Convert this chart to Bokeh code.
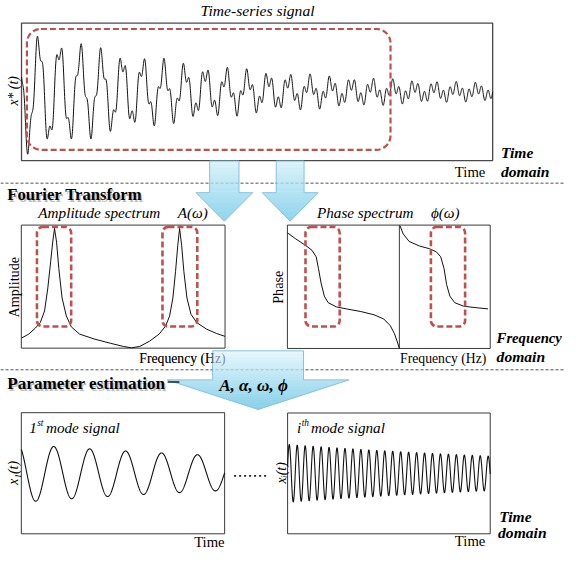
import numpy as np
from bokeh.plotting import figure
from bokeh.models import Range1d, BoxAnnotation
from bokeh.core.properties import value
from bokeh.embed import file_html
from bokeh.resources import INLINE

# ---------------- data ----------------
# Measured time-series x*(t): two damped modes, t = 0..10 s
top_A = [55.0, 12.0]
top_alpha = [0.265, 0.077]      # 1/s
top_omega = [14.2, 46.6]        # rad/s
top_phi = [1.08, -2.70]         # rad

# Identified single-mode signals (1st and i-th), t = 0..10 s
mode_A = [29.5, 29.5]
mode_alpha = [0.052, 0.052]
mode_omega = [3.555, 16.0]
mode_phi = [0.604, -1.32]

# Amplitude spectrum A(w): frequency (Hz) and normalised amplitude
amp_freq = [0.02, 0.37, 0.69, 0.93, 1.14, 1.30, 1.44, 1.54, 1.63, 1.73, 1.84, 2.00,
            2.21, 2.45, 2.85, 3.57, 4.37, 5.01, 5.41, 5.81, 6.29, 6.77, 7.09, 7.28,
            7.44, 7.57, 7.68, 7.77, 7.87, 7.98, 8.13, 8.33, 8.61, 9.09, 9.57, 10.0]
amp_val = [0.083, 0.115, 0.163, 0.208, 0.302, 0.488, 0.702, 0.862, 0.974, 0.862, 0.648, 0.408,
           0.262, 0.174, 0.115, 0.075, 0.040, 0.014, 0.003, 0.014, 0.056, 0.115, 0.182, 0.262,
           0.408, 0.622, 0.835, 0.974, 0.835, 0.622, 0.408, 0.275, 0.208, 0.155, 0.120, 0.096]

# Phase spectrum phi(w): two wrapped branches, degrees
ph1_freq = [0.01, 0.41, 0.89, 1.21, 1.42, 1.53, 1.66, 1.82, 2.01, 2.42, 2.98, 3.62,
            4.27, 4.75, 5.07, 5.28, 5.42, 5.52]
ph1_deg = [157.1, 139.9, 121.0, 106.6, 87.4, 53.9, 10.9, -27.2, -46.4, -58.7, -65.3, -72.2,
           -81.7, -94.0, -113.2, -137.0, -161.0, -180.0]
ph2_freq = [5.55, 5.71, 6.00, 6.51, 7.00, 7.35, 7.56, 7.72, 7.85, 8.01, 8.25, 8.69, 9.25, 9.89]
ph2_deg = [178.3, 154.2, 132.4, 119.0, 111.2, 101.8, 87.4, 53.9, 6.3, -27.2, -46.4, -56.7,
           -60.7, -64.5]
phase_wrap_freq = 5.52

# ---------------- layout ----------------
W, H = 565, 549
X0, X1 = 3.0, 581.0          # diagram units shown across the canvas
Y_BOT, Y_TOP = 565.0, 6.0
FS = W / (X1 - X0)           # font scale

SERIF = "Liberation Serif"
RED = "#c0504d"
INK = "#111111"

BOX_TOP = (24.5, 506.5, 29.0, 169.0)
BOX_AMP = (24.3, 232.7, 234.7, 360.0)
BOX_PH = (296.5, 504.0, 234.7, 360.3)
BOX_M1 = (24.3, 232.3, 425.7, 549.0)
BOX_MI = (296.7, 504.0, 426.0, 549.0)

p = figure(width=W, height=H, x_range=Range1d(X0, X1), y_range=Range1d(Y_BOT, Y_TOP),
           output_backend="svg", toolbar_location=None, min_border=0,
           x_axis_location=None, y_axis_location=None)
p.grid.visible = False
p.outline_line_color = None
p.background_fill_color = "white"
p.border_fill_color = "white"

panel_defs = {
    "top": (BOX_TOP, (0, 10), (-70, 70)),
    "amp": (BOX_AMP, (0, 10), (0, 1)),
    "ph": (BOX_PH, (0, 10), (-180, 180)),
    "m1": (BOX_M1, (0, 10), (-61.5, 61.5)),
    "mi": (BOX_MI, (0, 10), (-61.5, 61.5)),
}
xr, yr = {}, {}
for name, (box, xd, yd) in panel_defs.items():
    L, R, T, B = box
    kx = (xd[1] - xd[0]) / (R - L)
    xr[name] = Range1d(xd[0] + (X0 - L) * kx, xd[0] + (X1 - L) * kx)
    ky = (yd[1] - yd[0]) / (B - T)
    yr[name] = Range1d(yd[0] + (B - Y_BOT) * ky, yd[0] + (B - Y_TOP) * ky)
p.extra_x_ranges = xr
p.extra_y_ranges = yr


def txt(x, y, s, size, style="normal", align="left", angle=0.0, color="black",
        alpha=1.0, xo=0, yo=0, font=SERIF):
    p.text(x=[x], y=[y], text=[s], text_font=value(font),
           text_font_size=f"{size * FS:.1f}px", text_font_style=style,
           text_align=align, text_baseline="middle", angle=angle,
           text_color=color, text_alpha=alpha, x_offset=xo, y_offset=yo)


def sep(y, alpha=1.0):
    p.line([X0, X1], [y, y], line_color="#6a6a6a", line_width=1, line_dash="3 2",
           line_alpha=alpha)


def hexrgb(h):
    h = h.lstrip("#")
    return np.array([int(h[i:i + 2], 16) for i in (0, 2, 4)], dtype=float)


def mix(c0, c1, f):
    c = hexrgb(c0) * (1 - f) + hexrgb(c1) * f
    return "#%02x%02x%02x" % tuple(int(round(v)) for v in c)


def arrow(cx, y0, yb, ytip, sw, hw, c0, c1, n=18):
    edges = sorted(set(list(np.linspace(y0, ytip, n + 1)) + [yb]))
    xs, ys, cols = [], [], []
    for a, b in zip(edges[:-1], edges[1:]):
        bb = min(b + 0.5, ytip)
        if b <= yb + 1e-9:
            xs.append([cx - sw / 2, cx + sw / 2, cx + sw / 2, cx - sw / 2])
        else:
            ha = hw / 2 * (ytip - a) / (ytip - yb)
            hb = hw / 2 * (ytip - bb) / (ytip - yb)
            xs.append([cx - ha, cx + ha, cx + hb, cx - hb])
        ys.append([a, a, bb, bb])
        cols.append(mix(c0, c1, ((a + b) / 2 - y0) / (ytip - y0)))
    p.patches(xs, ys, fill_color=cols, line_color=None)
    ox = [cx - sw / 2, cx + sw / 2, cx + sw / 2, cx + hw / 2, cx, cx - hw / 2, cx - sw / 2, cx - sw / 2]
    oy = [y0, y0, yb, yb, ytip, yb, yb, y0]
    p.line(ox, oy, line_color="#86c3da", line_width=1)


# ---------------- separators ----------------
sep(192)
sep(382)

# ---------------- panel boxes ----------------
for name, (box, xd, yd) in panel_defs.items():
    L, R, T, B = box
    p.quad(left=[L], right=[R], top=[T], bottom=[B], fill_color=None,
           line_color="#4a4a4a" if name == "top" else "#3a3a3a",
           line_width=1.3 if name == "top" else 1)

# phase wrap divider
p.line([phase_wrap_freq, phase_wrap_freq], [-180, 180], line_color="#3a3a3a",
       line_width=1, x_range_name="ph", y_range_name="ph")

# ---------------- curves ----------------
t = np.linspace(0, 10, 2600)
x_top = np.zeros_like(t)
for A, a, w, ph in zip(top_A, top_alpha, top_omega, top_phi):
    x_top += A * np.exp(-a * t) * np.cos(w * t + ph)
p.line(t, x_top, line_color=INK, line_width=1, x_range_name="top", y_range_name="top")

p.line(amp_freq, amp_val, line_color=INK, line_width=1, x_range_name="amp", y_range_name="amp")
p.line(ph1_freq, ph1_deg, line_color=INK, line_width=1, x_range_name="ph", y_range_name="ph")
p.line(ph2_freq, ph2_deg, line_color=INK, line_width=1, x_range_name="ph", y_range_name="ph")

tm = np.linspace(0, 10, 1600)
for name, A, a, w, ph in zip(["m1", "mi"], mode_A, mode_alpha, mode_omega, mode_phi):
    p.line(tm, A * np.exp(-a * tm) * np.cos(w * tm + ph), line_color=INK, line_width=1.1,
           x_range_name=name, y_range_name=name)

# ---------------- red dashed highlight boxes ----------------
hl = [(30, 402, 35, 158, 14, 2.2),
      (40.3, 75.3, 236.5, 338, 6, 2.6), (168.7, 204.3, 236.5, 338, 6, 2.6),
      (315, 350, 236.5, 338, 6, 2.6), (443.3, 478.3, 236.5, 338, 6, 2.6)]
for l, r, tp, bt, rad, lw in hl:
    p.add_layout(BoxAnnotation(left=l, right=r, top=tp, bottom=bt, fill_alpha=0,
                               line_color=RED, line_alpha=1.0, line_width=lw,
                               line_dash="6 3", border_radius=rad))

# ---------------- texts ----------------
txt(266, 16, "Time-series signal", 16, "italic", "center")
txt(16.5, 98, "x* (t)", 14, "italic", "center", angle=np.pi / 2)
txt(499, 181, "Time", 15, "normal", "right")
txt(515, 161, "Time", 16, "bold italic")
txt(515, 180, "domain", 16, "bold italic")

txt(10, 204, "Fourier Transform", 17, "bold", color="#8a8a8a", alpha=0.55, xo=1.5, yo=1.5)
txt(10, 204, "Fourier Transform", 17, "bold")
txt(41.7, 222, "Amplitude spectrum", 15.5, "italic")
txt(184.3, 222, "A(ω)", 15.5, "italic")
txt(17.3, 298, "Amplitude", 14.5, "normal", "center", angle=np.pi / 2)
txt(233.3, 371, "Frequency (Hz)", 14, "normal", "right")
txt(326.7, 222, "Phase spectrum", 15.5, "italic")
txt(443.3, 222, "ϕ(ω)", 15.5, "italic")
txt(286.7, 298, "Phase", 14.5, "normal", "center", angle=np.pi / 2)
txt(500, 371, "Frequency (Hz)", 14, "normal", "right")
txt(510.5, 349.3, "Frequency", 15, "bold italic")
txt(510.5, 368.3, "domain", 16, "bold italic")

# ---------------- arrows ----------------
arrow(232, 169.5, 201.7, 230.7, 30, 58, "#dcf3fa", "#8dd4ed")
arrow(299.3, 169.5, 201.7, 230.7, 28.5, 57, "#dcf3fa", "#8dd4ed")
arrow(266.5, 362.7, 392.3, 422.5, 93, 186, "#e8f8fd", "#86cfe9")
sep(192, alpha=0.35)
sep(382, alpha=0.35)
txt(233.3, 371, "Frequency (Hz)", 14, "normal", "right", alpha=0.45)

txt(10, 396, "Parameter estimation", 17.5, "bold", color="#8a8a8a", alpha=0.55, xo=1.5, yo=1.5)
txt(10, 396, "Parameter estimation", 17.5, "bold")
p.line([174, 186], [394.5, 394.5], line_color="#222222", line_width=1.6)
txt(226.7, 398, "A, α, ω, ϕ", 17.5, "bold italic")

txt(32.5, 441, "1", 15.5, "italic")
txt(40.5, 436, "st", 9.5, "italic")
txt(49.5, 441, "mode signal", 15.5, "italic")
txt(306.2, 441, "i", 15.5, "italic")
txt(311.2, 436, "th", 9.5, "italic")
txt(320.7, 441, "mode signal", 15.5, "italic")
txt(16.7, 487, "x₁(t)", 14, "italic", "center", angle=np.pi / 2)
txt(290.5, 487, "xᵢ(t)", 14, "italic", "center", angle=np.pi / 2)
p.line([242, 277], [490, 490], line_color="#222222", line_width=1.6, line_dash="2 3")
txt(232.3, 557, "Time", 15, "normal", "right")
txt(499, 556, "Time", 15, "normal", "right")
txt(513.3, 531.5, "Time", 16, "bold italic")
txt(512, 548, "domain", 16, "bold italic")

open("out.html", "w").write(file_html(p, INLINE))
